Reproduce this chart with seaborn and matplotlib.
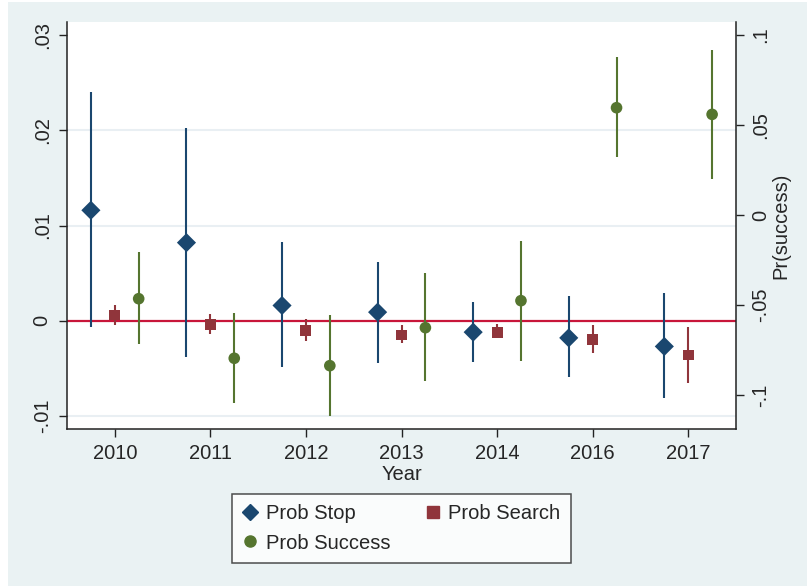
import matplotlib
matplotlib.use("Agg")
import matplotlib.pyplot as plt
from matplotlib.patches import Rectangle
from matplotlib.lines import Line2D
import numpy as np
import pandas as pd
import seaborn as sns

# Estimates and 95% confidence bounds by year
years = ["2010", "2011", "2012", "2013", "2014", "2016", "2017"]

stop_est = [0.0116, 0.0082, 0.0016, 0.0009, -0.0012, -0.0018, -0.0027]
stop_lo = [-0.0007, -0.0038, -0.0049, -0.0044, -0.0043, -0.0059, -0.0081]
stop_hi = [0.0240, 0.0202, 0.0083, 0.0062, 0.0020, 0.0026, 0.0029]

search_est = [0.0006, -0.0004, -0.0010, -0.0015, -0.0012, -0.0020, -0.0036]
search_lo = [-0.0004, -0.0014, -0.0021, -0.0023, -0.0018, -0.0034, -0.0065]
search_hi = [0.0017, 0.0007, 0.0002, -0.0004, -0.0003, -0.0005, -0.0007]

success_est = [-0.0465, -0.0796, -0.0837, -0.0626, -0.0476, 0.0596, 0.0559]
success_lo = [-0.0718, -0.1046, -0.1117, -0.0922, -0.0809, 0.0320, 0.0200]
success_hi = [-0.0207, -0.0546, -0.0556, -0.0320, -0.0143, 0.0876, 0.0917]

left_ticks = [-0.01, 0.0, 0.01, 0.02, 0.03]
left_labels = ["-.01", "0", ".01", ".02", ".03"]
right_ticks = [-0.1, -0.05, 0.0, 0.05, 0.1]
right_labels = ["-.1", "-.05", "0", ".05", ".1"]

NAVY = "#1a476f"
MAROON = "#90353b"
GREEN = "#55752f"
ZERO = "#c8163a"
BG = "#eaf2f3"
GRID = "#e9eff3"

sns.set_style("ticks")
plt.rcParams["font.family"] = ["Liberation Sans", "DejaVu Sans"]

W, H = 807, 586
fig = plt.figure(figsize=(W / 100, H / 100), dpi=100)
fig.patch.set_facecolor("white")
fig.patches.append(Rectangle((8 / W, 0), 1, (H - 2) / H, transform=fig.transFigure,
                             facecolor=BG, edgecolor="none", zorder=-10))

ax = fig.add_axes([67 / W, 1 - 429 / H, (736 - 67) / W, (429 - 22) / H])
ax.set_facecolor("white")
ax2 = ax.twinx()

x = np.arange(len(years))
off = 0.25

stop_df = pd.DataFrame({"pos": x - off, "est": stop_est})
search_df = pd.DataFrame({"pos": x, "est": search_est})
success_df = pd.DataFrame({"pos": x + off, "est": success_est})

# grid and zero reference line on the left scale
for g in [-0.01, 0.01, 0.02]:
    ax.axhline(g, color=GRID, lw=1.5, zorder=0)
ax.axhline(0, color=ZERO, lw=1.6, zorder=1)

# confidence intervals
ax.vlines(stop_df["pos"], stop_lo, stop_hi, color=NAVY, lw=1.5, zorder=2)
ax.vlines(search_df["pos"], search_lo, search_hi, color=MAROON, lw=1.5, zorder=2)
ax2.vlines(success_df["pos"], success_lo, success_hi, color=GREEN, lw=1.5, zorder=2)

# point estimates
sns.scatterplot(data=stop_df, x="pos", y="est", ax=ax, marker="D", s=95,
                color=NAVY, edgecolor="none", zorder=3, legend=False)
sns.scatterplot(data=search_df, x="pos", y="est", ax=ax, marker="s", s=62,
                color=MAROON, edgecolor="none", zorder=3, legend=False)
sns.scatterplot(data=success_df, x="pos", y="est", ax=ax2, marker="o", s=70,
                color=GREEN, edgecolor="none", zorder=3, legend=False)

ax.set_xlim(-0.5, 6.5)
ax.set_ylim(-0.01137, 0.03137)
ax2.set_ylim(-0.11889, 0.10722)

ax.set_xticks(x)
ax.set_xticklabels(years, fontsize=14.5)
ax.set_yticks(left_ticks)
ax.set_yticklabels(left_labels, fontsize=14.5, rotation=90, va="center")
ax2.set_yticks(right_ticks)
ax2.set_yticklabels(right_labels, fontsize=14.5, rotation=90, va="center")

for a in (ax, ax2):
    a.tick_params(axis="both", length=6, width=1, color="#222222", pad=5)
    for side in ("left", "right", "bottom"):
        a.spines[side].set_visible(True)
        a.spines[side].set_color("#222222")
        a.spines[side].set_linewidth(1.1)
    a.spines["top"].set_visible(False)
ax.tick_params(axis="x", pad=5)
ax2.spines["left"].set_visible(False)
ax2.spines["bottom"].set_visible(False)
ax.spines["right"].set_visible(False)

ax.set_xlabel("Year", fontsize=14.5, labelpad=1.5)
ax.set_ylabel("")
ax2.set_ylabel("Pr(success)", fontsize=14.5, rotation=90, labelpad=1)

handles = [
    Line2D([], [], marker="D", ls="none", color=NAVY, markersize=8.5),
    Line2D([], [], marker="o", ls="none", color=GREEN, markersize=8),
    Line2D([], [], marker="s", ls="none", color=MAROON, markersize=8),
]
labels = ["Prob Stop", "Prob Success", "Prob Search"]
leg = fig.legend(handles, labels, ncol=2, loc="center",
                 bbox_to_anchor=(401.5 / W, 1 - 528.5 / H), fontsize=14.5,
                 frameon=True, fancybox=False, edgecolor="#222222",
                 handletextpad=0.35, columnspacing=1.75, handlelength=0.8,
                 borderpad=0.5, labelspacing=0.5)
leg.get_frame().set_linewidth(1.1)
leg.get_frame().set_facecolor("white")

fig.savefig("out.png", dpi=100, facecolor=fig.get_facecolor())
